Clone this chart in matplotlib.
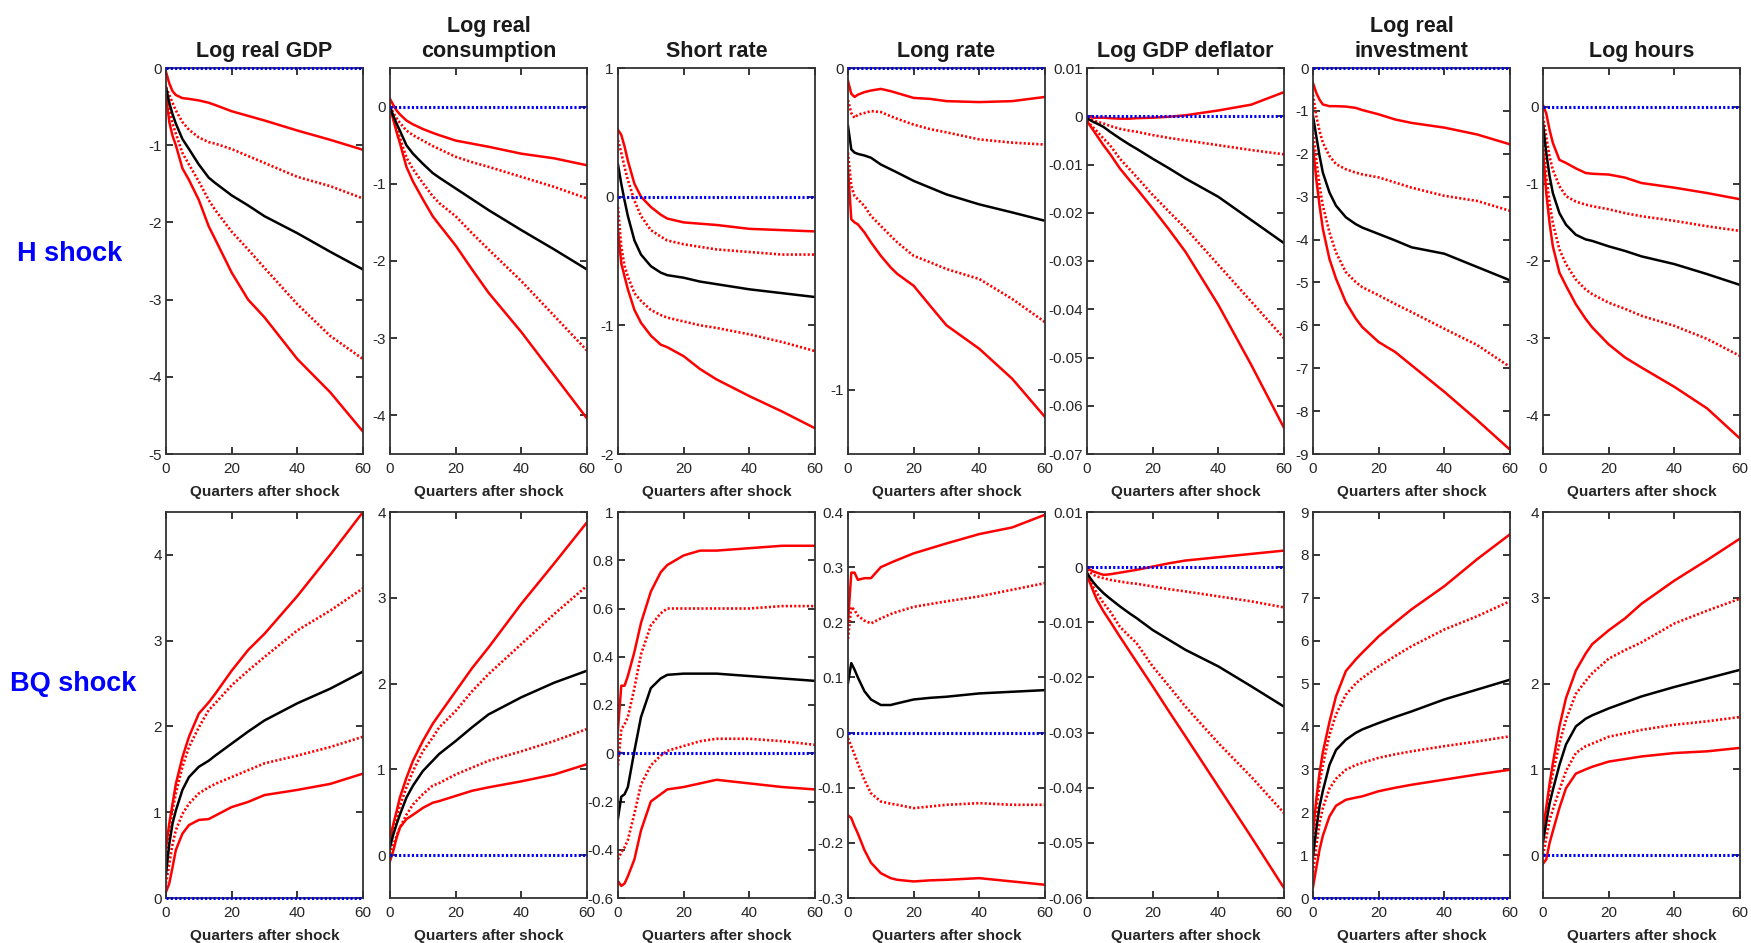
import matplotlib
matplotlib.use('Agg')
import matplotlib.pyplot as plt
import numpy as np

plt.rcParams['font.family'] = ['Liberation Sans', 'DejaVu Sans']

quarters = [0, 1, 2, 3, 5, 7, 10, 13, 15, 20, 25, 30, 40, 50, 60]

titles = ['Log real GDP', 'Log real\nconsumption', 'Short rate', 'Long rate',
          'Log GDP deflator', 'Log real\ninvestment', 'Log hours']
row_names = ['H shock', 'BQ shock']

# each panel: upper band (solid), upper band (dotted), median, lower band (dotted), lower band (solid)
gdp_h = [
    [-0.05, -0.20, -0.30, -0.35, -0.39, -0.40, -0.42, -0.45, -0.48, -0.56, -0.62, -0.68, -0.81, -0.93, -1.06],
    [-0.25, -0.35, -0.45, -0.55, -0.70, -0.80, -0.90, -0.96, -0.98, -1.05, -1.14, -1.23, -1.41, -1.53, -1.69],
    [-0.25, -0.45, -0.60, -0.72, -0.92, -1.05, -1.25, -1.42, -1.49, -1.65, -1.78, -1.92, -2.14, -2.38, -2.61],
    [-0.30, -0.55, -0.72, -0.85, -1.10, -1.25, -1.47, -1.71, -1.84, -2.12, -2.35, -2.59, -3.06, -3.47, -3.77],
    [-0.35, -0.70, -0.88, -1.00, -1.30, -1.45, -1.71, -2.05, -2.22, -2.65, -3.00, -3.23, -3.77, -4.20, -4.71],
]
cons_h = [
    [0.10, 0.02, -0.05, -0.10, -0.18, -0.23, -0.29, -0.34, -0.37, -0.44, -0.48, -0.52, -0.61, -0.67, -0.76],
    [0.0, -0.08, -0.15, -0.21, -0.31, -0.37, -0.44, -0.51, -0.55, -0.65, -0.72, -0.78, -0.91, -1.04, -1.19],
    [0.0, -0.12, -0.22, -0.31, -0.50, -0.61, -0.74, -0.86, -0.92, -1.06, -1.20, -1.34, -1.60, -1.85, -2.11],
    [0.0, -0.15, -0.28, -0.40, -0.66, -0.81, -0.99, -1.16, -1.25, -1.42, -1.64, -1.85, -2.26, -2.71, -3.16],
    [0.0, -0.17, -0.33, -0.47, -0.78, -0.97, -1.20, -1.42, -1.53, -1.80, -2.11, -2.41, -2.92, -3.48, -4.04],
]
short_h = [
    [0.52, 0.48, 0.39, 0.28, 0.10, 0.0, -0.08, -0.14, -0.17, -0.20, -0.21, -0.22, -0.25, -0.26, -0.27],
    [0.44, 0.34, 0.23, 0.13, -0.03, -0.15, -0.26, -0.31, -0.34, -0.37, -0.39, -0.41, -0.43, -0.45, -0.45],
    [0.25, 0.10, -0.03, -0.15, -0.34, -0.45, -0.54, -0.59, -0.61, -0.63, -0.66, -0.68, -0.72, -0.75, -0.78],
    [-0.08, -0.39, -0.54, -0.62, -0.75, -0.81, -0.88, -0.92, -0.94, -0.97, -1.00, -1.02, -1.07, -1.13, -1.20],
    [-0.26, -0.52, -0.62, -0.72, -0.88, -0.98, -1.08, -1.15, -1.17, -1.24, -1.34, -1.42, -1.55, -1.67, -1.80],
]
long_h = [
    [-0.04, -0.08, -0.09, -0.083, -0.075, -0.07, -0.065, -0.072, -0.078, -0.093, -0.096, -0.103, -0.106, -0.103, -0.09],
    [-0.10, -0.14, -0.155, -0.145, -0.14, -0.134, -0.137, -0.15, -0.158, -0.176, -0.19, -0.20, -0.222, -0.232, -0.238],
    [-0.18, -0.253, -0.263, -0.267, -0.272, -0.279, -0.30, -0.315, -0.325, -0.351, -0.372, -0.393, -0.424, -0.449, -0.475],
    [-0.263, -0.367, -0.398, -0.408, -0.429, -0.46, -0.491, -0.522, -0.542, -0.584, -0.604, -0.625, -0.656, -0.718, -0.79],
    [-0.315, -0.47, -0.48, -0.486, -0.511, -0.542, -0.584, -0.62, -0.64, -0.677, -0.739, -0.80, -0.873, -0.966, -1.085],
]
defl_h = [
    [0, -0.0002, -0.0003, -0.0003, -0.0003, -0.0004, -0.0005, -0.0005, -0.0004, -0.0003, -0.0001, 0.0002, 0.0012, 0.0024, 0.005],
    [-0.0005, -0.0007, -0.0009, -0.0011, -0.0015, -0.002, -0.0026, -0.003, -0.0032, -0.0039, -0.0045, -0.005, -0.006, -0.007, -0.0079],
    [-0.0005, -0.0008, -0.0012, -0.0015, -0.0022, -0.0032, -0.0046, -0.0059, -0.0067, -0.0088, -0.0108, -0.0129, -0.0167, -0.0215, -0.0263],
    [-0.001, -0.0017, -0.0024, -0.0031, -0.0046, -0.006, -0.0088, -0.011, -0.0125, -0.0163, -0.0198, -0.0232, -0.0308, -0.0384, -0.046],
    [-0.001, -0.002, -0.003, -0.004, -0.006, -0.0078, -0.0108, -0.0133, -0.0149, -0.0191, -0.0235, -0.0281, -0.0391, -0.0515, -0.0646],
]
inv_h = [
    [-0.35, -0.58, -0.74, -0.85, -0.89, -0.89, -0.90, -0.93, -0.98, -1.08, -1.20, -1.28, -1.39, -1.55, -1.78],
    [-0.62, -1.12, -1.47, -1.74, -2.05, -2.24, -2.36, -2.44, -2.48, -2.55, -2.67, -2.79, -2.98, -3.10, -3.33],
    [-1.12, -1.59, -2.05, -2.44, -2.90, -3.21, -3.48, -3.64, -3.72, -3.87, -4.02, -4.18, -4.33, -4.64, -4.95],
    [-1.51, -2.13, -2.75, -3.21, -3.83, -4.30, -4.76, -4.99, -5.11, -5.30, -5.50, -5.69, -6.08, -6.46, -6.97],
    [-1.82, -2.59, -3.21, -3.75, -4.45, -4.91, -5.46, -5.84, -6.04, -6.39, -6.62, -6.93, -7.55, -8.21, -8.90],
]
hours_h = [
    [0.02, -0.09, -0.30, -0.47, -0.69, -0.73, -0.80, -0.86, -0.87, -0.88, -0.92, -0.99, -1.05, -1.12, -1.20],
    [-0.13, -0.39, -0.65, -0.82, -1.03, -1.16, -1.23, -1.27, -1.29, -1.33, -1.38, -1.42, -1.48, -1.55, -1.61],
    [-0.22, -0.60, -0.90, -1.12, -1.38, -1.53, -1.66, -1.72, -1.74, -1.81, -1.87, -1.94, -2.04, -2.17, -2.31],
    [-0.39, -0.90, -1.25, -1.51, -1.85, -2.04, -2.24, -2.37, -2.43, -2.54, -2.62, -2.71, -2.84, -3.01, -3.23],
    [-0.56, -1.12, -1.51, -1.81, -2.15, -2.32, -2.56, -2.75, -2.86, -3.08, -3.25, -3.38, -3.63, -3.91, -4.30],
]

gdp_bq = [
    [0.59, 0.87, 1.10, 1.33, 1.64, 1.88, 2.15, 2.28, 2.38, 2.65, 2.89, 3.08, 3.52, 4.00, 4.50],
    [0.48, 0.79, 1.02, 1.22, 1.53, 1.76, 1.99, 2.19, 2.27, 2.48, 2.65, 2.81, 3.12, 3.35, 3.61],
    [0.28, 0.63, 0.87, 1.02, 1.26, 1.41, 1.53, 1.60, 1.66, 1.80, 1.94, 2.07, 2.27, 2.44, 2.64],
    [0.17, 0.40, 0.63, 0.79, 0.98, 1.10, 1.22, 1.29, 1.33, 1.41, 1.49, 1.57, 1.66, 1.76, 1.88],
    [0.07, 0.17, 0.36, 0.56, 0.75, 0.85, 0.91, 0.92, 0.96, 1.06, 1.12, 1.20, 1.26, 1.33, 1.45],
]
cons_bq = [
    [0.20, 0.36, 0.51, 0.67, 0.90, 1.10, 1.33, 1.53, 1.64, 1.91, 2.18, 2.42, 2.93, 3.40, 3.88],
    [0.16, 0.30, 0.44, 0.57, 0.79, 0.98, 1.21, 1.37, 1.49, 1.68, 1.91, 2.11, 2.46, 2.81, 3.14],
    [0.09, 0.24, 0.36, 0.47, 0.67, 0.81, 0.98, 1.10, 1.18, 1.33, 1.49, 1.64, 1.84, 2.01, 2.15],
    [0.01, 0.12, 0.22, 0.32, 0.47, 0.59, 0.71, 0.81, 0.84, 0.94, 1.02, 1.10, 1.21, 1.33, 1.47],
    [-0.07, 0.05, 0.20, 0.32, 0.42, 0.47, 0.55, 0.61, 0.63, 0.69, 0.75, 0.79, 0.86, 0.94, 1.06],
]
short_bq = [
    [0.10, 0.28, 0.28, 0.32, 0.42, 0.54, 0.67, 0.75, 0.78, 0.82, 0.84, 0.84, 0.85, 0.86, 0.86],
    [-0.05, 0.10, 0.12, 0.15, 0.27, 0.41, 0.53, 0.58, 0.60, 0.60, 0.60, 0.60, 0.60, 0.61, 0.61],
    [-0.27, -0.18, -0.17, -0.14, 0.01, 0.15, 0.27, 0.31, 0.325, 0.33, 0.33, 0.33, 0.32, 0.31, 0.30],
    [-0.44, -0.41, -0.39, -0.36, -0.25, -0.13, -0.05, -0.01, 0.01, 0.03, 0.05, 0.06, 0.06, 0.05, 0.035],
    [-0.53, -0.55, -0.54, -0.51, -0.44, -0.32, -0.20, -0.17, -0.15, -0.14, -0.125, -0.11, -0.125, -0.14, -0.15],
]
long_bq = [
    [0.20, 0.29, 0.29, 0.277, 0.28, 0.28, 0.30, 0.308, 0.313, 0.325, 0.334, 0.343, 0.36, 0.372, 0.395],
    [0.17, 0.228, 0.222, 0.212, 0.203, 0.198, 0.207, 0.215, 0.219, 0.228, 0.233, 0.238, 0.247, 0.259, 0.271],
    [0.09, 0.126, 0.114, 0.10, 0.075, 0.06, 0.05, 0.05, 0.053, 0.06, 0.063, 0.065, 0.071, 0.074, 0.077],
    [-0.01, -0.025, -0.04, -0.056, -0.086, -0.11, -0.125, -0.129, -0.131, -0.137, -0.134, -0.131, -0.128, -0.131, -0.131],
    [-0.15, -0.155, -0.17, -0.183, -0.213, -0.236, -0.255, -0.264, -0.267, -0.27, -0.268, -0.267, -0.264, -0.27, -0.276],
]
defl_bq = [
    [0, -0.0005, -0.0008, -0.001, -0.0014, -0.0013, -0.001, -0.0007, -0.0005, 0.0001, 0.0007, 0.0012, 0.0018, 0.0024, 0.003],
    [-0.0005, -0.001, -0.0014, -0.0017, -0.002, -0.0023, -0.0026, -0.0029, -0.003, -0.0035, -0.004, -0.0044, -0.0053, -0.0062, -0.0073],
    [-0.001, -0.002, -0.0028, -0.0035, -0.0047, -0.0057, -0.0071, -0.0084, -0.0092, -0.0114, -0.0132, -0.015, -0.018, -0.0216, -0.0253],
    [-0.0015, -0.0026, -0.0037, -0.0047, -0.0065, -0.008, -0.0108, -0.0126, -0.0137, -0.018, -0.0216, -0.0253, -0.0319, -0.038, -0.0446],
    [-0.0015, -0.003, -0.0045, -0.0059, -0.008, -0.0098, -0.0126, -0.0153, -0.0171, -0.0216, -0.0262, -0.0307, -0.0398, -0.0489, -0.0582],
]
inv_bq = [
    [1.52, 2.30, 2.92, 3.40, 4.10, 4.70, 5.29, 5.56, 5.72, 6.10, 6.42, 6.73, 7.27, 7.90, 8.48],
    [1.20, 2.00, 2.68, 3.10, 3.80, 4.28, 4.74, 5.00, 5.13, 5.40, 5.64, 5.87, 6.26, 6.57, 6.92],
    [0.97, 1.60, 2.14, 2.50, 3.10, 3.45, 3.69, 3.85, 3.93, 4.08, 4.22, 4.35, 4.63, 4.86, 5.09],
    [0.60, 1.20, 1.75, 2.10, 2.55, 2.78, 2.99, 3.10, 3.15, 3.27, 3.35, 3.42, 3.54, 3.65, 3.77],
    [0.25, 0.70, 1.13, 1.45, 1.90, 2.15, 2.29, 2.34, 2.37, 2.49, 2.57, 2.64, 2.76, 2.88, 2.99],
]
hours_bq = [
    [0.29, 0.56, 0.83, 1.07, 1.50, 1.83, 2.15, 2.35, 2.46, 2.62, 2.76, 2.93, 3.20, 3.44, 3.69],
    [0.25, 0.50, 0.76, 0.95, 1.30, 1.58, 1.88, 2.03, 2.12, 2.29, 2.39, 2.48, 2.70, 2.85, 2.99],
    [0.15, 0.38, 0.60, 0.76, 1.05, 1.29, 1.50, 1.59, 1.63, 1.71, 1.78, 1.85, 1.96, 2.06, 2.16],
    [0.0, 0.20, 0.41, 0.53, 0.76, 0.98, 1.19, 1.27, 1.30, 1.38, 1.42, 1.46, 1.52, 1.56, 1.61],
    [-0.10, -0.05, 0.14, 0.28, 0.55, 0.78, 0.95, 1.00, 1.03, 1.09, 1.12, 1.15, 1.19, 1.21, 1.25],
]

ylims = [
    [(-5, 0), (-4.5, 0.5), (-2, 1), (-1.2, 0), (-0.07, 0.01), (-9, 0), (-4.5, 0.5)],
    [(0, 4.5), (-0.5, 4), (-0.6, 1), (-0.3, 0.4), (-0.06, 0.01), (0, 9), (-0.5, 4)],
]
yticks = [
    [np.arange(-5, 1), np.arange(-4, 1), [-2, -1, 0, 1], [-1, 0],
     np.round(np.arange(-0.07, 0.011, 0.01), 2), np.arange(-9, 1), np.arange(-4, 1)],
    [np.arange(0, 5), np.arange(0, 5), np.round(np.arange(-0.6, 1.01, 0.2), 1),
     np.round(np.arange(-0.3, 0.41, 0.1), 1), np.round(np.arange(-0.06, 0.011, 0.01), 2),
     np.arange(0, 10), np.arange(0, 5)],
]
panels = [
    [gdp_h, cons_h, short_h, long_h, defl_h, inv_h, hours_h],
    [gdp_bq, cons_bq, short_bq, long_bq, defl_bq, inv_bq, hours_bq],
]


def fmt(v, pos):
    s = '%g' % round(v, 4)
    return '0' if s == '-0' else s


W, H = 1751, 943
fig = plt.figure(figsize=(W / 100, H / 100), dpi=100)

lefts = [166, 390, 618, 848, 1087, 1313, 1543]
tops = [68, 512]
aw, ah = 197, 386

for r in range(2):
    for c in range(7):
        ax = fig.add_axes([lefts[c] / W, 1 - (tops[r] + ah) / H, aw / W, ah / H])
        up, up_d, med, lo_d, lo = panels[r][c]
        ax.plot(quarters, up, color='#ff0000', lw=1.8)
        ax.plot(quarters, lo, color='#ff0000', lw=1.8)
        ax.plot(quarters, up_d, color='#ff0000', lw=1.9, dashes=(0.8, 0.8))
        ax.plot(quarters, lo_d, color='#ff0000', lw=1.9, dashes=(0.8, 0.8))
        ax.plot(quarters, med, color='black', lw=1.8)
        ax.plot([0, 60], [0, 0], color='#0000ff', lw=2.2, dashes=(0.7, 0.7),
                clip_on=False, zorder=5)
        ax.set_xlim(0, 60)
        ax.set_ylim(*ylims[r][c])
        ax.set_xticks([0, 20, 40, 60])
        ax.set_yticks(yticks[r][c])
        ax.yaxis.set_major_formatter(plt.FuncFormatter(fmt))
        ax.tick_params(direction='in', top=True, right=True, length=5, width=1.3,
                       labelsize=11, colors='#262626', color='#262626')
        ax.tick_params(axis='x', pad=6)
        ax.tick_params(axis='y', pad=3)
        for sp in ax.spines.values():
            sp.set_linewidth(1.3)
            sp.set_color('#333333')
        ax.set_xlabel('Quarters after shock', fontsize=11, fontweight='bold',
                      color='#262626', labelpad=6)
        if r == 0:
            ax.set_title(titles[c], fontsize=15.5, fontweight='bold', pad=8,
                         linespacing=1.25, color='#1a1a1a')

fig.text(70 / W, 1 - 254 / H, row_names[0], color='#0000ff', fontsize=19.5,
         fontweight='bold', ha='center', va='center')
fig.text(73 / W, 1 - 684 / H, row_names[1], color='#0000ff', fontsize=19.5,
         fontweight='bold', ha='center', va='center')

fig.savefig('out.png', dpi=100)
